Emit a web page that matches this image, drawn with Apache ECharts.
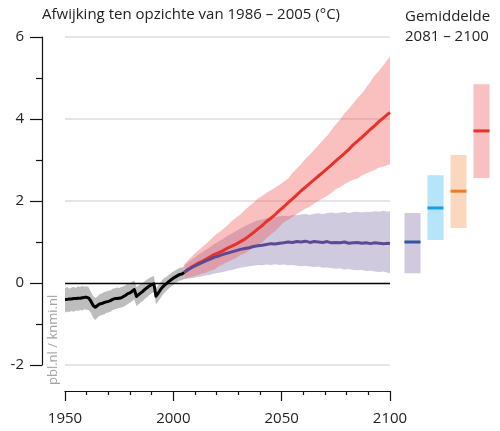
<!DOCTYPE html>
<html>
<head>
<meta charset="utf-8">
<script src="https://cdn.jsdelivr.net/npm/echarts@6/dist/echarts.min.js"></script>
<style>html,body{margin:0;padding:0;background:#fff;}#c{width:500px;height:431px;}</style>
</head>
<body>
<div id="c"></div>
<script>
// ---- data ----
const histYears = [1950,1951,1952,1953,1954,1955,1956,1957,1958,1959,1960,1961,1962,1963,1964,1965,1966,1967,1968,1969,1970,1971,1972,1973,1974,1975,1976,1977,1978,1979,1980,1981,1982,1983,1984,1985,1986,1987,1988,1989,1990,1991,1992,1993,1994,1995,1996,1997,1998,1999,2000,2001,2002,2003,2004,2005];
const histMean = [-0.40,-0.40,-0.39,-0.39,-0.38,-0.38,-0.37,-0.37,-0.36,-0.35,-0.35,-0.37,-0.45,-0.55,-0.59,-0.55,-0.51,-0.50,-0.48,-0.46,-0.45,-0.43,-0.40,-0.38,-0.38,-0.37,-0.36,-0.33,-0.30,-0.26,-0.24,-0.20,-0.16,-0.33,-0.28,-0.24,-0.20,-0.15,-0.11,-0.07,-0.04,-0.02,-0.32,-0.25,-0.17,-0.10,-0.05,-0.01,0.04,0.08,0.12,0.15,0.18,0.21,0.22,0.26];
const histUpper = [-0.12,-0.10,-0.14,-0.11,-0.09,-0.12,-0.08,-0.10,-0.07,-0.09,-0.08,-0.11,-0.22,-0.32,-0.36,-0.33,-0.27,-0.26,-0.22,-0.21,-0.19,-0.18,-0.14,-0.13,-0.11,-0.12,-0.10,-0.08,-0.05,-0.02,0.00,0.03,0.06,-0.10,-0.06,-0.02,0.01,0.05,0.09,0.12,0.15,0.17,-0.12,-0.06,0.01,0.08,0.13,0.16,0.20,0.24,0.28,0.31,0.34,0.37,0.38,0.41];
const histLower = [-0.72,-0.70,-0.71,-0.68,-0.70,-0.67,-0.68,-0.66,-0.67,-0.64,-0.65,-0.66,-0.74,-0.85,-0.90,-0.84,-0.80,-0.78,-0.77,-0.73,-0.72,-0.70,-0.66,-0.64,-0.63,-0.61,-0.60,-0.58,-0.55,-0.51,-0.48,-0.44,-0.40,-0.56,-0.52,-0.47,-0.43,-0.38,-0.34,-0.29,-0.25,-0.22,-0.52,-0.45,-0.37,-0.29,-0.23,-0.18,-0.13,-0.09,-0.04,0.00,0.03,0.06,0.07,0.10];

const futYears = [2005,2007,2009,2011,2013,2015,2017,2019,2021,2023,2025,2027,2029,2031,2033,2035,2037,2039,2041,2043,2045,2047,2049,2051,2053,2055,2057,2059,2061,2063,2065,2067,2069,2071,2073,2075,2077,2079,2081,2083,2085,2087,2089,2091,2093,2095,2097,2099,2100];
const rcp85Mean = [0.26,0.34,0.41,0.47,0.52,0.58,0.64,0.70,0.74,0.79,0.85,0.90,0.95,1.01,1.07,1.15,1.23,1.32,1.40,1.50,1.58,1.67,1.77,1.86,1.96,2.05,2.15,2.25,2.34,2.43,2.52,2.61,2.70,2.79,2.88,2.98,3.07,3.16,3.26,3.37,3.46,3.55,3.65,3.75,3.84,3.94,4.03,4.12,4.16];
const rcp85Upper = [0.45,0.57,0.67,0.77,0.86,0.95,1.05,1.16,1.23,1.32,1.41,1.51,1.60,1.67,1.78,1.87,1.96,2.06,2.12,2.20,2.26,2.33,2.39,2.47,2.55,2.68,2.79,2.90,3.03,3.13,3.25,3.36,3.48,3.59,3.73,3.87,3.99,4.14,4.25,4.38,4.51,4.62,4.77,4.91,5.07,5.18,5.31,5.46,5.53];
const rcp85Lower = [0.10,0.13,0.16,0.19,0.22,0.25,0.30,0.33,0.41,0.46,0.51,0.56,0.61,0.68,0.72,0.79,0.86,0.93,0.99,1.09,1.18,1.27,1.37,1.48,1.54,1.61,1.68,1.75,1.82,1.86,1.94,2.00,2.07,2.13,2.20,2.29,2.34,2.41,2.47,2.52,2.55,2.62,2.67,2.72,2.76,2.82,2.84,2.88,2.90];
const rcp26Mean = [0.26,0.33,0.39,0.44,0.49,0.54,0.58,0.63,0.66,0.70,0.73,0.76,0.79,0.82,0.84,0.86,0.89,0.91,0.92,0.94,0.96,0.95,0.97,0.98,1.00,0.99,1.01,1.00,1.02,0.99,1.01,1.00,0.99,1.01,0.98,0.99,0.98,1.00,0.97,0.98,0.99,0.97,0.98,0.96,0.98,0.97,0.96,0.97,0.96];
const rcp26Upper = [0.42,0.51,0.59,0.67,0.74,0.81,0.88,0.96,1.02,1.08,1.15,1.21,1.27,1.33,1.39,1.44,1.48,1.53,1.55,1.58,1.60,1.61,1.63,1.64,1.63,1.66,1.65,1.67,1.68,1.66,1.69,1.70,1.68,1.71,1.72,1.70,1.72,1.73,1.71,1.73,1.74,1.72,1.74,1.73,1.75,1.74,1.76,1.74,1.75];
const rcp26Lower = [0.10,0.11,0.12,0.14,0.16,0.18,0.20,0.23,0.25,0.27,0.30,0.32,0.35,0.37,0.39,0.41,0.42,0.44,0.43,0.45,0.44,0.46,0.44,0.45,0.43,0.44,0.42,0.41,0.42,0.40,0.39,0.40,0.37,0.38,0.36,0.35,0.36,0.33,0.34,0.32,0.31,0.32,0.29,0.30,0.28,0.27,0.28,0.25,0.24];

const boxLabels = ['RCP2.6','RCP4.5','RCP6.0','RCP8.5'];
const boxLow  = [0.24, 1.05, 1.34, 2.56];
const boxHigh = [1.71, 2.63, 3.12, 4.85];
const boxMean = [1.00, 1.83, 2.24, 3.71];
const yTicks = [-2, 0, 2, 4, 6];
const xTicks = [1950, 2000, 2050, 2100];

// ---- styles ----
const boxFill = ['#d1c9dd', '#b6e4f8', '#fbd7bd', '#f8c0c0'];
const boxLine = ['#3a52a3', '#14a0e3', '#f27a22', '#e8312a'];
const FONT = 'Open Sans';

const zip = (xs, ys) => xs.map((x, i) => [x, ys[i]]);

// band drawn as one polygon through the axis scales (api.coord)
function band(name, years, lower, upper, color, z) {
  return {
    name: name, type: 'custom', xAxisIndex: 0, yAxisIndex: 0, silent: true, z: z,
    data: years.map((y, i) => [y, lower[i], upper[i]]),
    encode: { x: 0, y: [1, 2] },
    renderItem: function (params, api) {
      if (params.dataIndex !== 0) return null;
      const pts = [];
      for (let i = 0; i < years.length; i++) pts.push(api.coord([years[i], upper[i]]));
      for (let i = years.length - 1; i >= 0; i--) pts.push(api.coord([years[i], lower[i]]));
      return { type: 'polygon', shape: { points: pts }, style: { fill: color } };
    }
  };
}

const chart = echarts.init(document.getElementById('c'), null, { renderer: 'canvas' });
chart.setOption({
  animation: false,
  textStyle: { fontFamily: FONT },
  title: [
    { text: 'Afwijking ten opzichte van 1986 – 2005 (°C)', left: 37, top: 2,
      textStyle: { fontFamily: FONT, fontSize: 15, fontWeight: 'normal', color: '#222' } },
    { text: 'Gemiddelde\n2081 – 2100', left: 400, top: 2,
      textStyle: { fontFamily: FONT, fontSize: 15, fontWeight: 'normal', color: '#222', lineHeight: 20 } }
  ],
  graphic: [
    { type: 'text', x: 47, y: 385, rotation: Math.PI / 2,
      style: { text: 'pbl.nl / knmi.nl', font: '13px "Open Sans"', fill: '#a3a3a3', textAlign: 'left', textVerticalAlign: 'top' } }
  ],
  grid: [
    { left: 65, right: 110, top: 37, height: 328, containLabel: false },
    { left: 401, width: 92, top: 37, height: 328, containLabel: false }
  ],
  xAxis: [
    { type: 'value', gridIndex: 0, min: 1950, max: 2100, interval: 50, offset: 26,
      axisLine: { show: true, onZero: false, lineStyle: { color: '#111', width: 1.2 } },
      axisTick: { show: true, inside: false, length: 10, lineStyle: { color: '#111', width: 1.2 } },
      minorTick: { show: true, splitNumber: 5, length: 4, lineStyle: { color: '#111', width: 1.2 } },
      axisLabel: { margin: 20, fontSize: 15, color: '#222', fontFamily: FONT,
        formatter: v => xTicks.includes(v) ? String(v) : '' },
      splitLine: { show: false } },
    { type: 'category', gridIndex: 1, data: boxLabels, show: false }
  ],
  yAxis: [
    { type: 'value', gridIndex: 0, min: -2, max: 6, interval: 2, offset: 23,
      axisLine: { show: true, lineStyle: { color: '#111', width: 1.2 } },
      axisTick: { show: true, inside: false, length: 12, lineStyle: { color: '#111', width: 1.2 } },
      minorTick: { show: true, splitNumber: 2, length: 6, lineStyle: { color: '#111', width: 1.2 } },
      axisLabel: { margin: 18, fontSize: 15, color: '#222', fontFamily: FONT,
        formatter: v => yTicks.includes(v) ? String(v) : '' },
      splitLine: { show: true, lineStyle: { color: ['#dcdcdc', 'rgba(0,0,0,0)', '#dcdcdc', '#dcdcdc', '#dcdcdc'], width: 1.5 } } },
    { type: 'value', gridIndex: 1, min: -2, max: 6, show: false, splitLine: { show: false } }
  ],
  series: [
    band('rcp26Band', futYears, rcp26Lower, rcp26Upper, 'rgba(100,80,150,0.3)', 2),
    band('rcp85Band', futYears, rcp85Lower, rcp85Upper, 'rgba(240,80,80,0.36)', 2),
    band('histBand', histYears, histLower, histUpper, '#bdbdbd', 2),
    { name: 'zero', type: 'line', data: [], xAxisIndex: 0, yAxisIndex: 0, z: 2,
      markLine: { silent: true, symbol: 'none', label: { show: false },
        lineStyle: { color: '#000', width: 1.3, type: 'solid' }, data: [{ yAxis: 0 }] } },
    { name: 'histMean', type: 'line', data: zip(histYears, histMean), symbol: 'none', z: 3,
      lineStyle: { color: '#000', width: 3, join: 'round' } },
    { name: 'rcp85Mean', type: 'line', data: zip(futYears, rcp85Mean), symbol: 'none', z: 3,
      lineStyle: { color: '#e8312a', width: 3, join: 'round' } },
    { name: 'rcp26Mean', type: 'line', data: zip(futYears, rcp26Mean), symbol: 'none', z: 3,
      lineStyle: { color: '#5b4a93', width: 3, join: 'round' } },
    { name: 'boxes', type: 'custom', xAxisIndex: 1, yAxisIndex: 1,
      data: boxLabels.map((c, i) => [i, boxLow[i], boxHigh[i], boxMean[i]]),
      renderItem: function (params, api) {
        const i = api.value(0);
        const top = api.coord([i, api.value(2)]);
        const bot = api.coord([i, api.value(1)]);
        const mid = api.coord([i, api.value(3)]);
        const w = 16;
        return { type: 'group', children: [
          { type: 'rect', shape: { x: top[0] - w / 2, y: top[1], width: w, height: bot[1] - top[1] },
            style: { fill: boxFill[i] } },
          { type: 'line', shape: { x1: top[0] - w / 2, y1: mid[1], x2: top[0] + w / 2, y2: mid[1] },
            style: { stroke: boxLine[i], lineWidth: 3 } }
        ] };
      } }
  ]
});
</script>
</body>
</html>
